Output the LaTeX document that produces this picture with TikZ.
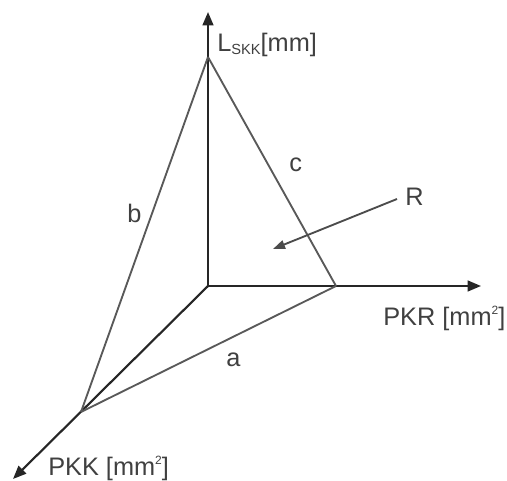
\documentclass[tikz,border=0pt]{standalone}
\usepackage{fontspec}
\setmainfont{Liberation Sans}
\usetikzlibrary{arrows.meta}

\newcommand{\lowidx}[1]{\raisebox{-2pt}{\fontsize{11}{11}\selectfont #1}}
\newcommand{\highidx}[1]{\raisebox{8pt}{\fontsize{9}{9}\selectfont #1}}

\begin{document}
\begin{tikzpicture}[x=0.75pt, y=-0.75pt,
    axis/.style={draw=black!85, line width=1.6pt, -{Triangle[length=10pt,width=8pt]}},
    edge/.style={draw=black!65, line width=1.4pt},
    pointer/.style={draw=black!70, line width=1.4pt, -{Triangle[length=9pt,width=6.5pt]}},
    lbl/.style={inner sep=0pt, anchor=base west, text=black!75,
      font=\fontsize{19}{22}\selectfont}]
  \useasboundingbox (0,0) rectangle (507,481);
  % corners of the triangle and axis ends
  \coordinate (origin) at (208,286);
  \coordinate (top) at (208,57);
  \coordinate (right) at (336,286);
  \coordinate (left) at (81,412);
  \coordinate (ytip) at (208,12);
  \coordinate (xtip) at (481,286);
  \coordinate (ztip) at (13,479);
  \coordinate (rfrom) at (397,199);
  \coordinate (rto) at (273,249);
  % axes
  \draw[axis] (origin) -- (ytip);
  \draw[axis] (origin) -- (xtip);
  \draw[axis] (origin) -- (ztip);
  % triangle
  \draw[edge] (top) -- (right);
  \draw[edge] (top) -- (left);
  \draw[edge] (left) -- (right);
  \draw[pointer] (rfrom) -- (rto);
  % labels
  \node[lbl] (lskk) at (217,52) {L\lowidx{SKK}[mm]};
  \node[lbl] (pkr) at (383,325) {PKR [mm\highidx{2}]};
  \node[lbl] (pkk) at (48,475) {PKK [mm\highidx{2}]};
  \node[lbl] (rlab) at (405,206) {R};
  \node[lbl] (alab) at (226,366) {a};
  \node[lbl] (blab) at (127,223) {b};
  \node[lbl] (clab) at (289,172) {c};
\end{tikzpicture}
\end{document}
